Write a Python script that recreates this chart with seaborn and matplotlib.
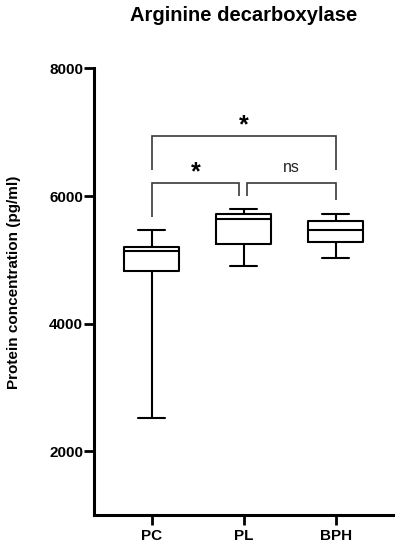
import pandas as pd
import seaborn as sns
import matplotlib.pyplot as plt

# five-number summaries (min, Q1, median, Q3, max)
groups = ["PC", "PL", "BPH"]
pc_vals = [2530, 4823, 5146, 5200, 5463]
pl_vals = [4913, 5243, 5636, 5725, 5804]
bph_vals = [5034, 5274, 5474, 5609, 5725]

y_ticks = [2000, 4000, 6000, 8000]

# significance brackets: (left group, right group, bar height, left leg end, right leg end, label)
brackets = [
    (0, 2, 6944, 6405, 6405, "*"),
    (0, 0.95, 6206, 5672, 5997, "*"),
    (1.04, 2, 6206, 5997, 5934, "ns"),
]

df = pd.DataFrame({
    "group": ["PC"] * len(pc_vals) + ["PL"] * len(pl_vals) + ["BPH"] * len(bph_vals),
    "value": pc_vals + pl_vals + bph_vals,
})

sns.set_theme(style="ticks")
plt.rcParams["font.family"] = ["Liberation Sans", "DejaVu Sans"]
plt.rcParams["text.color"] = "black"
plt.rcParams["axes.labelcolor"] = "black"
plt.rcParams["xtick.labelcolor"] = "black"
plt.rcParams["ytick.labelcolor"] = "black"

fig = plt.figure(figsize=(3.99, 5.5), dpi=100)
ax = fig.add_axes([0.2363, 0.0631, 0.7486, 0.8124])

sns.boxplot(data=df, x="group", y="value", order=groups, whis=(0, 100),
            width=0.6, fill=False, color="black", linewidth=1.5, ax=ax)

for x1, x2, h, l1, l2, lab in brackets:
    ax.plot([x1, x1, x2, x2], [l1, h, h, l2], color="#3a3a3a", lw=1.2,
            solid_capstyle="butt", solid_joinstyle="miter")
    if lab == "*":
        ax.text((x1 + x2) / 2, h - 20, lab, ha="center", va="bottom",
                fontsize=18, fontweight="bold", color="black")
    else:
        ax.text((x1 + x2) / 2, h + 130, lab, ha="center", va="bottom",
                fontsize=11.5, color="#222222")

ax.set_ylim(1000, 8000)
ax.set_xlim(-0.624, 2.623)
ax.set_yticks(y_ticks)
ax.set_yticklabels([str(t) for t in y_ticks], fontweight="bold", fontsize=11)
ax.set_xticks(range(len(groups)))
ax.set_xticklabels(groups, fontweight="bold", fontsize=11)
ax.tick_params(axis="y", length=7, width=2, pad=1, color="black")
ax.tick_params(axis="x", length=7, width=2, pad=3, color="black")
for s in ["left", "bottom"]:
    ax.spines[s].set_linewidth(2.2)
    ax.spines[s].set_color("black")
sns.despine(ax=ax)

ax.set_xlabel("")
ax.set_ylabel("Protein concentration (pg/ml)", fontweight="bold", fontsize=11)
ax.yaxis.set_label_coords(-0.245, 0.522)
ax.set_title("Arginine decarboxylase", fontweight="bold", fontsize=14.5, pad=34)

fig.savefig("out.png", dpi=100)
